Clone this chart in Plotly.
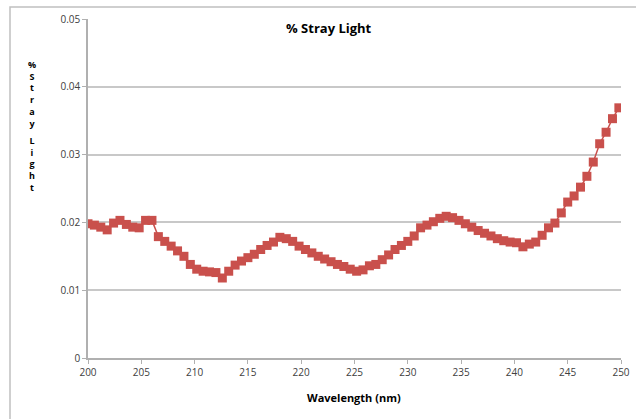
import plotly.graph_objects as go

wavelength = [200.0, 200.6, 201.2, 201.8, 202.4, 203.0, 203.6, 204.2, 204.8, 205.4,
              206.0, 206.6, 207.2, 207.8, 208.4, 209.0, 209.6, 210.2, 210.8, 211.4,
              212.0, 212.6, 213.2, 213.8, 214.4, 215.0, 215.6, 216.2, 216.8, 217.4,
              218.0, 218.6, 219.2, 219.8, 220.4, 221.0, 221.6, 222.2, 222.8, 223.4,
              224.0, 224.6, 225.2, 225.8, 226.4, 227.0, 227.6, 228.2, 228.8, 229.4,
              230.0, 230.6, 231.2, 231.8, 232.4, 233.0, 233.6, 234.2, 234.8, 235.4,
              236.0, 236.6, 237.2, 237.8, 238.4, 239.0, 239.6, 240.2, 240.8, 241.4,
              242.0, 242.6, 243.2, 243.8, 244.4, 245.0, 245.6, 246.2, 246.8, 247.4,
              248.0, 248.6, 249.2, 249.8]

stray_light = [0.0198, 0.0196, 0.0193, 0.0189, 0.0199, 0.0203, 0.0197, 0.0193, 0.0192, 0.0203,
               0.0203, 0.0179, 0.0172, 0.0165, 0.0158, 0.0150, 0.0138, 0.0131, 0.0128, 0.0127,
               0.0126, 0.0118, 0.0128, 0.0137, 0.0143, 0.0148, 0.0153, 0.0160, 0.0166, 0.0171,
               0.0178, 0.0176, 0.0172, 0.0165, 0.0160, 0.0155, 0.0150, 0.0146, 0.0142, 0.0138,
               0.0135, 0.0131, 0.0128, 0.0130, 0.0136, 0.0138, 0.0145, 0.0152, 0.0160, 0.0166,
               0.0172, 0.0180, 0.0192, 0.0196, 0.0201, 0.0206, 0.0209, 0.0207, 0.0203, 0.0198,
               0.0193, 0.0188, 0.0184, 0.0180, 0.0176, 0.0173, 0.0171, 0.0170, 0.0164, 0.0168,
               0.0171, 0.0181, 0.0192, 0.0199, 0.0214, 0.0230, 0.0239, 0.0252, 0.0268, 0.0289,
               0.0316, 0.0333, 0.0353, 0.0369]

x_ticks = [200, 205, 210, 215, 220, 225, 230, 235, 240, 245, 250]
y_ticks = [0, 0.01, 0.02, 0.03, 0.04, 0.05]
y_tick_labels = ["0", "0.01", "0.02", "0.03", "0.04", "0.05"]

title_text = "% Stray Light"
x_title = "Wavelength (nm)"
y_title_word1 = ["%", "S", "t", "r", "a", "y"]
y_title_word2 = ["L", "i", "g", "h", "t"]

RED = "#c9504c"
FONT = "Open Sans, Liberation Sans, Arial, sans-serif"

fig = go.Figure()
fig.add_trace(go.Scatter(
    x=wavelength, y=stray_light, mode="lines+markers",
    line=dict(color=RED, width=1.5),
    marker=dict(symbol="square", size=9, color=RED),
    showlegend=False,
))

W, H = 636, 419
L, R, T, B = 88, 621, 19, 358
pw, ph = R - L, B - T


def px(x):
    return (x - L) / pw


def py(y):
    return (B - y) / ph


fig.update_layout(
    width=W, height=H,
    margin=dict(l=L, r=W - R, t=T, b=H - B, autoexpand=False),
    paper_bgcolor="white", plot_bgcolor="white",
    font=dict(family=FONT, color="#404040"),
)
fig.update_xaxes(
    range=[200, 250], tickvals=x_ticks, ticks="outside", ticklen=4, tickcolor="#b0b0b0",
    showline=True, linecolor="#b0b0b0", linewidth=1.5, showgrid=False, zeroline=False,
    tickfont=dict(size=10, color="#404040"), automargin=False,
)
fig.update_yaxes(
    range=[0, 0.05], tickvals=y_ticks, ticktext=y_tick_labels, ticks="outside", ticklen=4,
    tickcolor="#b0b0b0", showline=True, linecolor="#b0b0b0", linewidth=1.5,
    showgrid=True, gridcolor="#c8c8c8", gridwidth=1.5, zeroline=False,
    tickfont=dict(size=10, color="#404040"), automargin=False,
)

# chart border
fig.add_shape(type="rect", xref="paper", yref="paper",
              x0=px(10), x1=px(650), y0=py(430), y1=py(7),
              line=dict(color="#c0c0c0", width=1.5), layer="above")

fig.add_annotation(text="<b>" + title_text + "</b>", xref="paper", yref="paper",
                   x=px(329), y=py(28), xanchor="center", yanchor="middle", showarrow=False,
                   font=dict(size=13, color="#000000", family=FONT))
fig.add_annotation(text="<b>" + x_title + "</b>", xref="paper", yref="paper",
                   x=px(354), y=py(397), xanchor="center", yanchor="middle", showarrow=False,
                   font=dict(size=11, color="#000000", family=FONT))

fig.add_annotation(text="<b>" + "<br>".join(y_title_word1) + "</b>", xref="paper", yref="paper",
                   x=px(32), y=py(94), xanchor="center", yanchor="middle", showarrow=False,
                   font=dict(size=9, color="#000000", family=FONT))
fig.add_annotation(text="<b>" + "<br>".join(y_title_word2) + "</b>", xref="paper", yref="paper",
                   x=px(32), y=py(164), xanchor="center", yanchor="middle", showarrow=False,
                   font=dict(size=9, color="#000000", family=FONT))

fig.write_html("out.html",
               config={"displayModeBar": False},
               post_script="document.body.style.margin='0px';document.body.style.overflow='hidden';")
